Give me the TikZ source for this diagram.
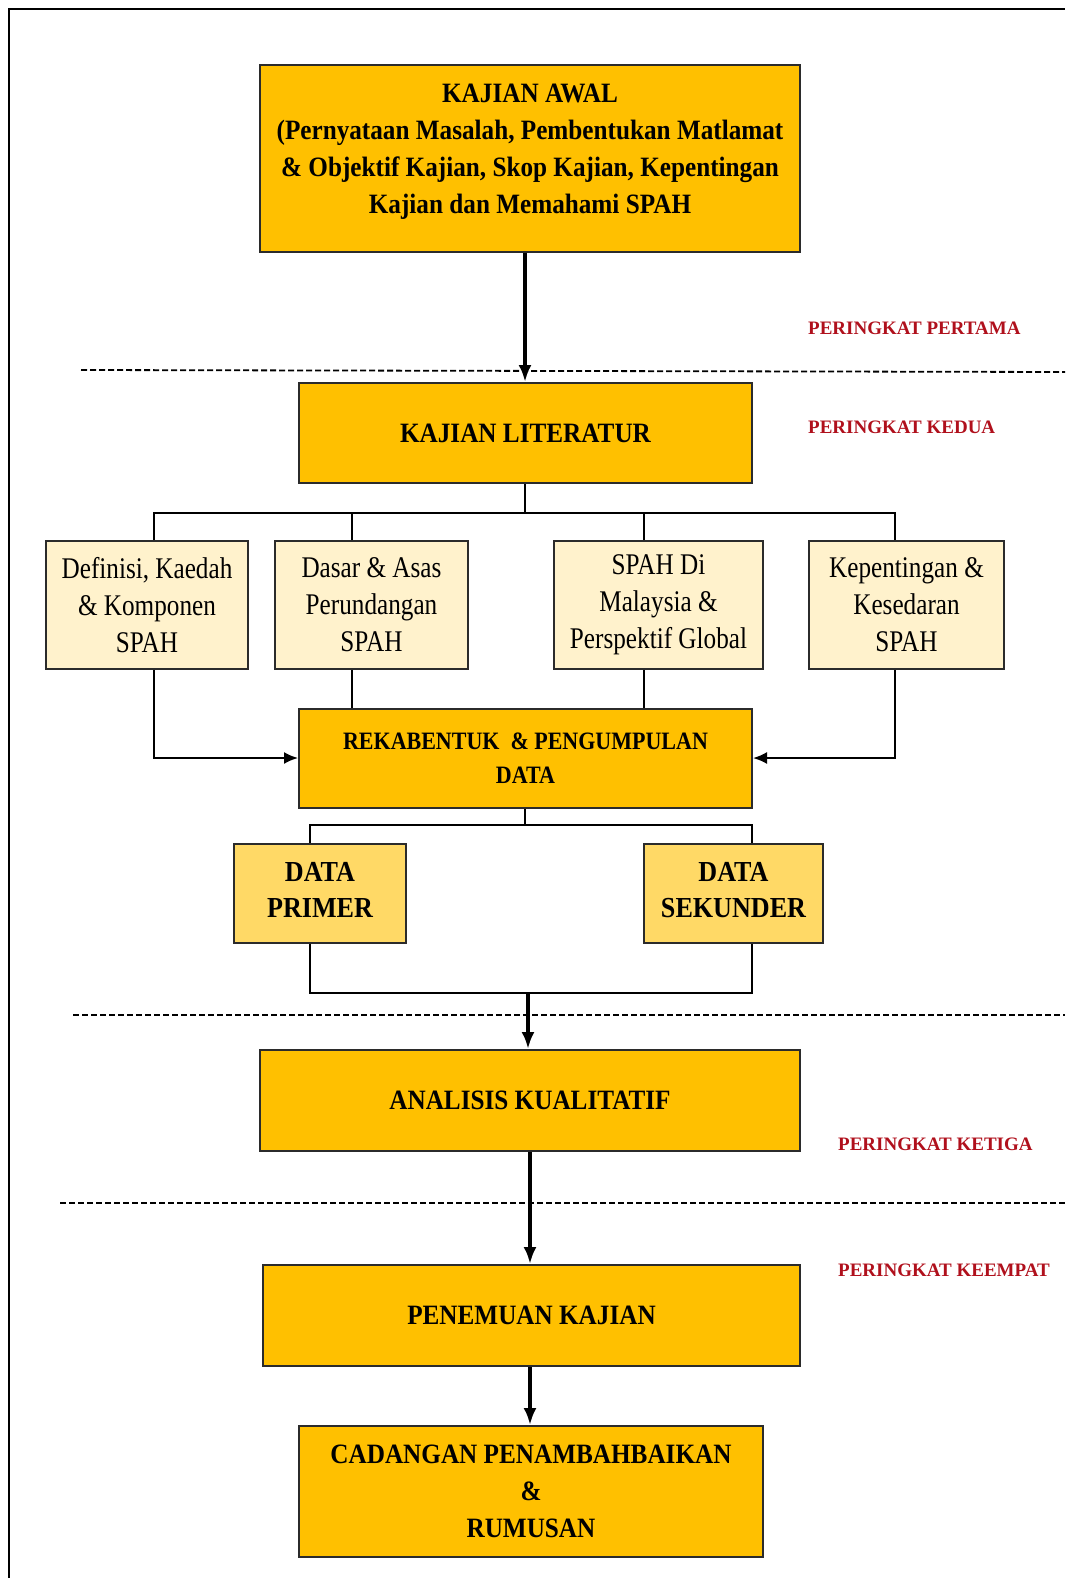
\documentclass[tikz,border=0pt]{standalone}
\usepackage{fontspec}
\setmainfont{Liberation Serif}
\newfontfamily\bcondA[FakeStretch=0.90]{Liberation Serif Bold}
\newfontfamily\bcondB[FakeStretch=0.88]{Liberation Serif Bold}
\newfontfamily\rcond[FakeStretch=0.84]{Liberation Serif}
\newfontfamily\bstage{Liberation Serif Bold}
\usetikzlibrary{arrows.meta}
\definecolor{gold}{HTML}{FFC000}
\definecolor{cream}{HTML}{FFF2CC}
\definecolor{lgold}{HTML}{FFD966}
\definecolor{darkred}{HTML}{B0101C}
\definecolor{edge}{HTML}{2B2B2B}
\newcommand{\liftup}[2]{\raisebox{#1}[\height][\depth]{\begin{tabular}{@{}c@{}}#2\end{tabular}}}
\tikzset{
  mainbox/.style={draw=edge, line width=2pt, fill=gold, inner sep=0pt, align=center, font=\bcondA\fontsize{28}{37}\selectfont},
  subbox/.style={draw=edge, line width=1.8pt, fill=cream, inner sep=0pt, align=center, font=\rcond\fontsize{30}{37}\selectfont},
  databox/.style={draw=edge, line width=1.8pt, fill=lgold, inner sep=0pt, align=center, font=\bcondA\fontsize{29}{36}\selectfont},
  stage/.style={text=darkred, anchor=west, inner sep=0pt, font=\bstage\fontsize{19}{22}\selectfont},
  thick arrow/.style={line width=3.5pt, -{Latex[length=17pt,width=13pt]}},
  thin line/.style={line width=2pt},
  thin arrow/.style={line width=2pt, -{Latex[length=14pt,width=12pt]}},
  sep/.style={line width=1.8pt, dash pattern=on 6pt off 3pt}
}
\begin{document}
\begin{tikzpicture}[x=1pt,y=-1pt]
\useasboundingbox (0,0) rectangle (1065,1578);
% frame
\draw[line width=2.6pt] (9,1578) -- (9,9) -- (1065,9);
% separators
\draw[sep] (81,370) -- (1065,372);
\draw[sep] (73,1015) -- (1065,1015);
\draw[sep] (60,1203) -- (1065,1203);
% main boxes
\node[mainbox, minimum width=540, minimum height=187] (awal) at (530,158.5)
  {\liftup{8pt}{KAJIAN AWAL\\(Pernyataan Masalah, Pembentukan Matlamat\\\&~Objektif Kajian, Skop Kajian, Kepentingan\\Kajian dan Memahami SPAH}};
\node[mainbox, minimum width=453, minimum height=100] (lit) at (525.5,433) {KAJIAN LITERATUR};
\node[subbox, minimum width=202, minimum height=128] (b1) at (147,605) {Definisi, Kaedah\\\&~Komponen\\SPAH};
\node[subbox, minimum width=193, minimum height=128] (b2) at (371.5,605) {Dasar \&~Asas\\Perundangan\\SPAH};
\node[subbox, minimum width=209, minimum height=128] (b3) at (658.5,605) {SPAH Di\\Malaysia \&\\Perspektif Global};
\node[subbox, minimum width=195, minimum height=128] (b4) at (906.5,605) {Kepentingan \&\\Kesedaran\\SPAH};
\node[mainbox, minimum width=453, minimum height=99, font=\bcondB\fontsize{25}{34}\selectfont] (rek) at (525.5,758.5) {REKABENTUK~ \&~PENGUMPULAN\\DATA};
\node[databox, minimum width=172, minimum height=99] (pri) at (320,893.5) {\liftup{1pt}{DATA\\PRIMER}};
\node[databox, minimum width=179, minimum height=99] (sek) at (733.5,893.5) {\liftup{1pt}{DATA\\SEKUNDER}};
\node[mainbox, minimum width=540, minimum height=101] (ana) at (530,1100.5) {ANALISIS KUALITATIF};
\node[mainbox, minimum width=537, minimum height=101] (pen) at (531.5,1315.5) {PENEMUAN KAJIAN};
\node[mainbox, minimum width=464, minimum height=131] (cad) at (531,1491.5) {CADANGAN PENAMBAHBAIKAN\\\&\\RUMUSAN};
% stage labels
\node[stage] (s1) at (808,328) {PERINGKAT PERTAMA};
\node[stage] (s2) at (808,427) {PERINGKAT KEDUA};
\node[stage] (s3) at (838,1144) {PERINGKAT KETIGA};
\node[stage] (s4) at (838,1270) {PERINGKAT KEEMPAT};
% coordinates
\coordinate (t) at (525,513);
\coordinate (sp) at (525,825);
\coordinate (mg) at (528,993);
% connectors
\draw[thick arrow] (awal.south -| 525,0) -- (lit.north -| 525,0);
\draw[thin line] (lit.south -| t) -- (t);
\draw[thin line] (b1.north -| 154,0) |- (t) -| (b4.north -| 895,0);
\draw[thin line] (b2.north -| 352,0) -- (352,513);
\draw[thin line] (b3.north -| 644,0) -- (644,513);
\draw[thin line] (b2.south -| 352,0) -- (rek.north -| 352,0);
\draw[thin line] (b3.south -| 644,0) -- (rek.north -| 644,0);
\draw[thin arrow] (b1.south -| 154,0) |- (rek.west |- 0,758);
\draw[thin arrow] (b4.south -| 895,0) |- (rek.east |- 0,758);
\draw[thin line] (rek.south -| sp) -- (sp);
\draw[thin line] (pri.north -| 310,0) |- (sp) -| (sek.north -| 752,0);
\draw[thin line] (pri.south -| 310,0) |- (mg) -| (sek.south -| 752,0);
\draw[thick arrow] (mg) -- (ana.north -| mg);
\draw[thick arrow] (ana.south -| 530,0) -- (pen.north -| 530,0);
\draw[thick arrow] (pen.south -| 530,0) -- (cad.north -| 530,0);
\end{tikzpicture}
\end{document}
